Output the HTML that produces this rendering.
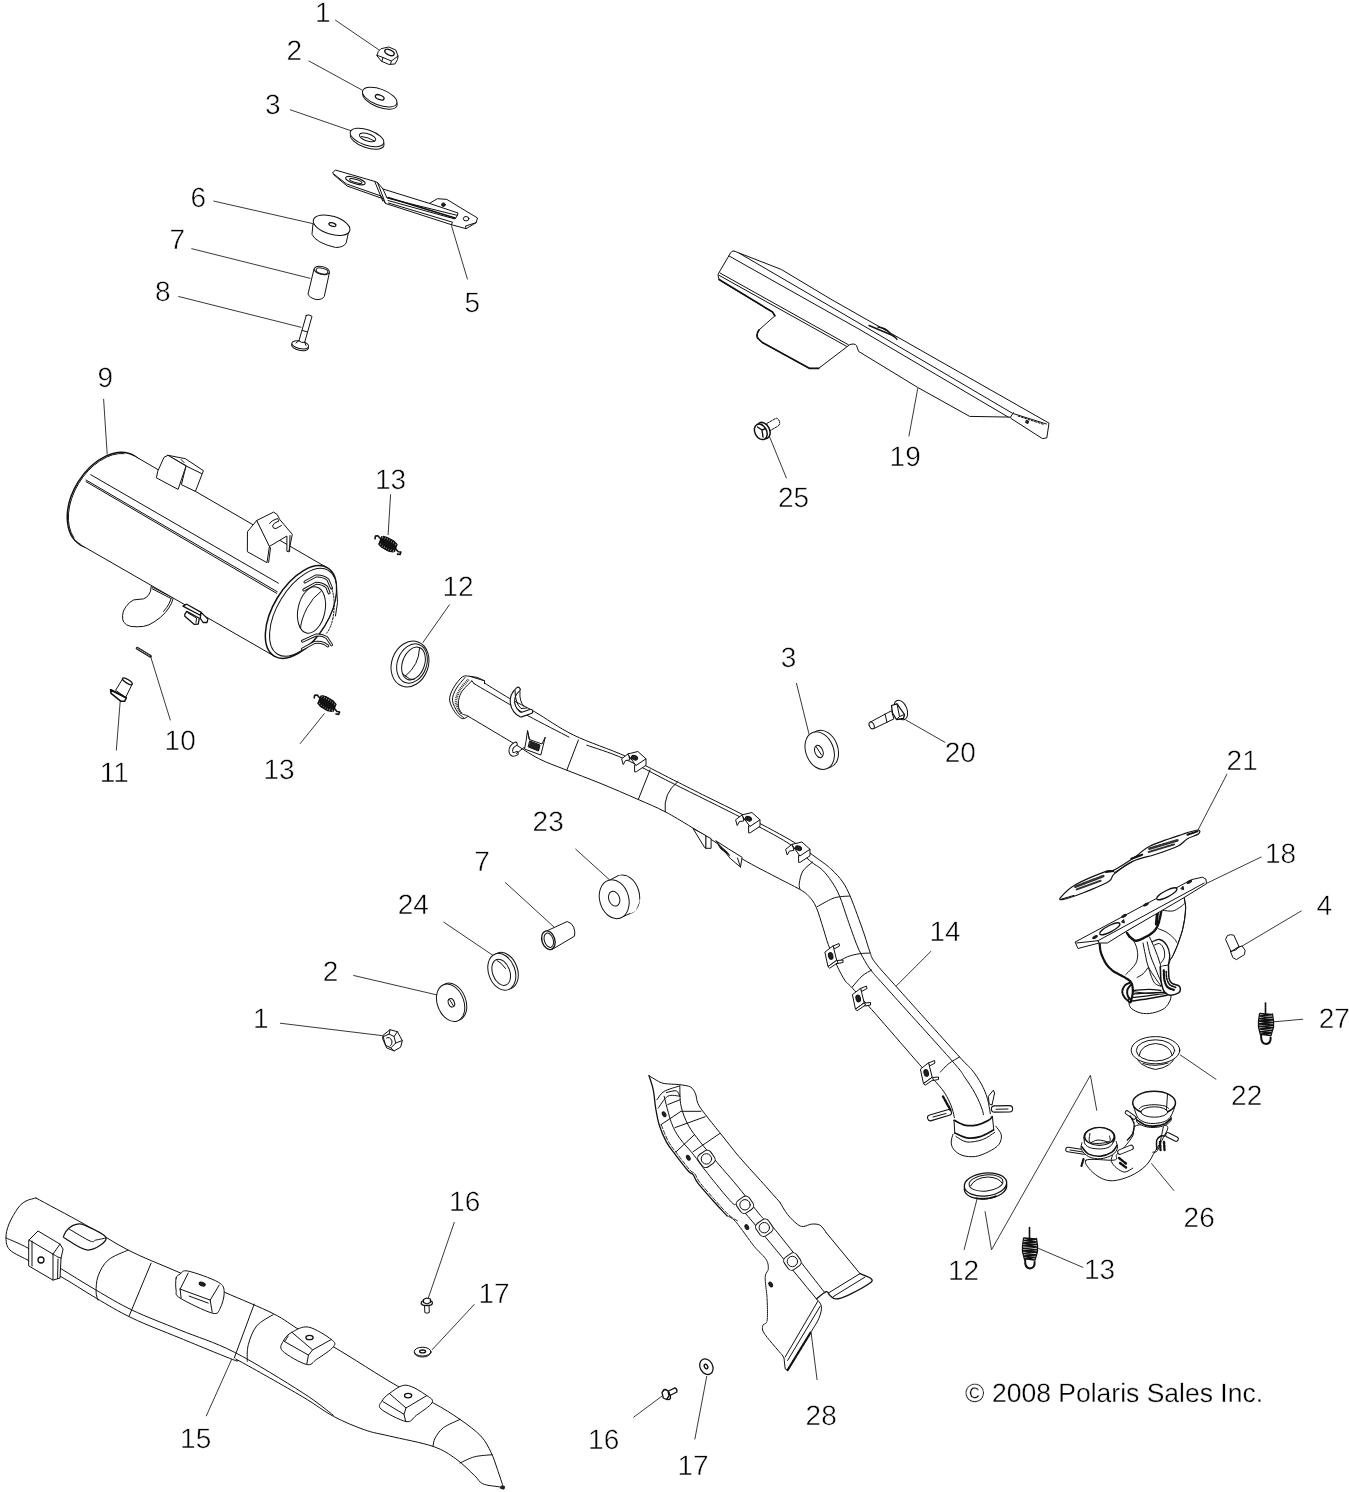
<!DOCTYPE html>
<html><head><meta charset="utf-8"><title>Exhaust parts diagram</title>
<style>
html,body{margin:0;padding:0;background:#fff}
svg{display:block;will-change:transform}
.l{fill:none;stroke:#111;stroke-width:1;stroke-linecap:round;stroke-linejoin:round}
.w{fill:#fff;stroke:#111;stroke-width:1;stroke-linecap:round;stroke-linejoin:round}
.k{fill:#222;stroke:#111;stroke-width:1}
.ld{fill:none;stroke:#222;stroke-width:0.9}
text{text-rendering:geometricPrecision;font-family:"Liberation Sans",Arial,sans-serif;font-size:28px;fill:#000;stroke:#fff;stroke-width:0.5px;paint-order:fill stroke}
</style></head><body>
<svg width="1349" height="1492" viewBox="0 0 1349 1492">
<rect width="1349" height="1492" fill="#fff"/>
<g id="leaders" class="ld">
<path d="M335.2 20L379.7 50.4M308.6 60.8L362.7 90.4M290 109.7L352.3 131.2M213.4 201L313.7 223.8M191.4 248.6L310.4 278.4M178.3 296.4L301.4 327.4M451.4 225.4L467.5 279.4M390.6 494.3L388.1 535M150.8 657.1L170.4 720.4M120.2 701.3L116.3 750.6M103.6 398.9L107.2 454.5M324.5 713.4L300 743.8M449.7 604.4L422.7 642.8M917.8 388.2L908.9 436.4M769.6 436.9L786.5 478.3M796.4 683L809.1 734.4M905.4 719.7L945.3 742.5M1197.5 830.9L1227.1 773.9M1261.4 856.9L1206.9 883.2M1301.5 910.8L1241.4 946.5M1303.1 1019.2L1273 1021.9M1180 1054.7L1216.3 1079.5M1151.4 1163.4L1174.1 1190.8M991.5 1249.8L1090.4 1075.3L1096.8 1110.7M991.5 1249.8L985 1211.2M977 1199.1L964.1 1249.8M1038.1 1248.2L1083.2 1267.5M575.4 848.9L609.6 879.9M505.2 882.4L554.2 927.2M443.4 921.9L494 956.1M353.3 975.4L437.3 995M280 1023.2L382.7 1035.7M811.1 1332.7L817.1 1380M454.4 1222L428.3 1298M474.5 1304.2L432 1349.9M232.2 1358.2L206.2 1416.2M633.4 1417.4L662.1 1396M706.8 1376L694.8 1439.4M931.1 951.1L895.7 986.5"/>
</g>
<g id="parts">
<!-- nut 1 top -->
<g class="w">
<path d="M377 55.3L378.3 51.5L381 48.7L388.8 47L395.8 50L398 56.1L397.5 59.5L394.9 64L388.8 64.4L381.8 61.4Z"/>
<path class="l" d="M377 55.3L383 57.5L391.4 61L398 56.1M391.4 61L390.5 64.4M383 57.5L381.8 61.4"/>
<ellipse cx="389.5" cy="52.4" rx="5" ry="2.6" transform="rotate(24 389.5 52.4)" style="stroke-width:1.4"/>
</g>
<!-- washer 2 top -->
<g class="w">
<ellipse cx="379.9" cy="99.3" rx="18.2" ry="8" transform="rotate(21 379.9 99.3)"/>
<ellipse cx="379.7" cy="97.1" rx="18.2" ry="8" transform="rotate(21 379.7 97.1)"/>
<ellipse cx="379.7" cy="97.3" rx="4.6" ry="2.2" transform="rotate(21 379.7 97.3)" style="stroke-width:1.3"/>
</g>
<!-- washer 3 top -->
<g class="w">
<ellipse cx="367.2" cy="140" rx="17.6" ry="7.6" transform="rotate(19 367.2 140)"/>
<ellipse cx="367" cy="137.5" rx="17.6" ry="7.6" transform="rotate(19 367 137.5)"/>
<ellipse cx="367.6" cy="137.4" rx="8.6" ry="3.6" transform="rotate(19 367.6 137.4)"/>
<path class="l" d="M361.5 136.5Q368 137 374.5 141"/>
</g>
<!-- heat shield 28 -->
<g class="w">
<path style="stroke:none" d="M649.0 1075.7L656.9 1080.5L664.1 1083.5L679.8 1084.7L690.7 1087.1L695.5 1093.8L697.9 1103.4L705.2 1114.3L719.6 1132.4L738.9 1156.5L760.7 1180.7L780.0 1202.4L787.6 1214.5L797.2 1224.1L803.3 1226.5L811.7 1224.1L820.2 1225.3L826.2 1232.6L860.0 1273.6L870.8 1278.4L869.6 1283.3L847.9 1295.3L835.8 1298.9L829.8 1295.3L826.2 1291.7L816.5 1298.9L821.4 1306.2L818.9 1318.3L810.5 1332.7L787.6 1370.1L785.2 1368.9L784.0 1358.1L782.7 1355.7L764.6 1333.9L762.8 1325.5L767.1 1320.7L767.1 1298.9L765.2 1277.2L768.3 1268.8L765.9 1259.1L753.8 1245.9L735.7 1221.7L726.9 1215.7L712.4 1200.0L697.9 1183.1L693.1 1174.6L688.3 1171.0L675.0 1154.1L666.5 1142.1L659.3 1125.2L655.7 1108.3L653.3 1090.2Z"/>
<path class="l" d="M649.0 1075.7C650.4 1076.5 654.4 1079.2 656.9 1080.5C659.4 1081.8 660.3 1082.8 664.1 1083.5C668.0 1084.2 675.4 1084.1 679.8 1084.7C684.2 1085.3 688.1 1085.6 690.7 1087.1C693.3 1088.7 694.3 1091.1 695.5 1093.8C696.7 1096.5 696.3 1100.0 697.9 1103.4C699.5 1106.9 701.5 1109.5 705.2 1114.3C708.8 1119.1 714.0 1125.4 719.6 1132.4C725.3 1139.4 732.1 1148.5 738.9 1156.5C745.8 1164.6 753.8 1173.0 760.7 1180.7C767.5 1188.3 776.8 1198.8 780.0 1202.4"/>
<path class="l" d="M780.0 1202.4C781.2 1204.4 784.7 1210.9 787.6 1214.5C790.4 1218.1 794.6 1222.1 797.2 1224.1C799.8 1226.1 800.8 1226.5 803.3 1226.5C805.7 1226.5 808.9 1224.3 811.7 1224.1C814.5 1223.9 817.7 1223.9 820.2 1225.3C822.6 1226.7 825.2 1231.4 826.2 1232.6"/>
<path class="l" d="M826.2 1232.6L860.0 1273.6"/>
<path class="l" style="stroke-width:1.3" d="M860.0 1273.6C861.8 1274.4 869.2 1276.8 870.8 1278.4C872.4 1280.0 873.4 1280.4 869.6 1283.3C865.8 1286.1 853.5 1292.7 847.9 1295.3C842.3 1297.9 838.9 1298.9 835.8 1298.9C832.8 1298.9 831.4 1296.5 829.8 1295.3C828.2 1294.1 828.4 1291.1 826.2 1291.7C824.0 1292.3 818.1 1297.7 816.5 1298.9"/>
<path class="l" d="M816.5 1298.9C817.3 1300.2 821.0 1303.0 821.4 1306.2C821.8 1309.4 820.8 1313.8 818.9 1318.3C817.1 1322.7 811.9 1330.3 810.5 1332.7"/>
<path class="l" style="stroke-width:2.2;stroke-dasharray:1.5 1" d="M810.5 1332.7L787.6 1370.1"/>
<path class="l" d="M810.5 1332.7L787.6 1370.1L785.2 1368.9L784.0 1358.1L782.7 1355.7"/>
<path class="l" style="stroke-dasharray:3 1" d="M782.7 1355.7C779.7 1352.0 768.0 1339.0 764.6 1333.9C761.3 1328.9 762.4 1327.7 762.8 1325.5C763.2 1323.3 766.4 1325.1 767.1 1320.7C767.8 1316.2 767.4 1306.2 767.1 1298.9C766.8 1291.7 765.0 1282.3 765.2 1277.2C765.4 1272.2 768.2 1271.8 768.3 1268.8C768.4 1265.8 768.3 1262.9 765.9 1259.1C763.4 1255.3 758.8 1252.1 753.8 1245.9C748.8 1239.6 740.2 1226.8 735.7 1221.7C731.2 1216.7 728.3 1216.7 726.9 1215.7"/>
<path class="l" style="stroke-width:1.3" d="M726.9 1215.7C724.5 1213.0 717.2 1205.4 712.4 1200.0C707.6 1194.5 701.1 1187.3 697.9 1183.1C694.7 1178.9 694.7 1176.6 693.1 1174.6C691.5 1172.6 691.3 1174.4 688.3 1171.0C685.2 1167.6 678.6 1158.9 675.0 1154.1C671.4 1149.3 669.2 1146.9 666.5 1142.1C663.9 1137.2 661.1 1130.8 659.3 1125.2C657.5 1119.5 656.7 1114.1 655.7 1108.3C654.7 1102.4 654.4 1095.6 653.3 1090.2C652.2 1084.7 649.8 1078.1 649.0 1075.7"/>
<path class="l" style="stroke-dasharray:4 2;stroke-width:0.9" d="M737.4 1220.8C735.9 1219.8 732.5 1218.4 728.6 1214.8C724.7 1211.1 718.9 1204.5 714.1 1199.1C709.3 1193.6 702.8 1186.4 699.6 1182.2C696.4 1178.0 696.4 1175.7 694.8 1173.7C693.2 1171.7 693.0 1173.5 690.0 1170.1C686.9 1166.7 680.3 1158.0 676.7 1153.2C673.1 1148.4 670.9 1146.0 668.2 1141.2C665.6 1136.3 662.2 1127.1 661.0 1124.3"/>
<path class="l" d="M664.1 1096.2C665.3 1100.6 668.8 1115.7 671.4 1122.7C674.0 1129.8 676.2 1133.2 679.8 1138.4C683.4 1143.7 688.5 1148.3 693.1 1154.1C697.7 1159.9 701.1 1165.4 707.6 1173.4C714.0 1181.5 725.4 1195.7 731.7 1202.4C738.0 1209.0 731.2 1197.2 745.3 1213.3C759.5 1229.4 804.7 1284.7 816.5 1298.9"/>
<path class="l" d="M679.8 1085.9C680.0 1089.3 679.6 1099.3 681.0 1105.9C682.4 1112.4 685.0 1119.1 688.3 1125.2C691.5 1131.2 695.5 1135.8 700.3 1142.1C705.2 1148.3 710.8 1154.9 717.2 1162.6C723.7 1170.2 731.7 1179.1 738.9 1187.9C746.2 1196.8 754.6 1208.6 760.7 1215.7C766.8 1222.7 764.8 1217.3 775.5 1230.2C786.2 1243.0 816.7 1282.5 825.0 1292.9"/>
<path class="l" d="M661.1 1124.6L681.0 1111.3L700.9 1111.3"/>
<path class="l" d="M675.0 1127.6L705.2 1116.7"/>
<path class="l" d="M676.2 1151.7L694.3 1134.8"/>
<path class="l" d="M693.1 1151.7L719.6 1133.6"/>
<path class="l" d="M656.9 1099.8C658.1 1098.4 660.3 1093.7 664.1 1091.4C668.0 1089.1 677.2 1086.8 679.8 1085.9"/>
<path class="l" d="M658.1 1108.3C659.7 1106.3 664.1 1098.2 667.8 1096.2C671.4 1094.2 677.8 1096.2 679.8 1096.2"/>
<path class="l" d="M666.5 1092.6C668.2 1092.3 674.0 1090.2 676.2 1090.8C678.4 1091.4 679.2 1095.3 679.8 1096.2"/>
<path class="l" d="M667.8 1104.6L679.8 1099.8"/>
<path class="l" d="M860.0 1273.6L828.6 1292.9"/>
<path class="l" d="M864.8 1277.2L833.4 1296.5"/>
<path class="l" d="M817.7 1301.4L785.2 1356.9"/>
<path class="l" d="M820.2 1306.2L787.6 1360.5"/>
<rect x="698.9" y="1151.4" width="15" height="15" rx="4.5" transform="rotate(-35 706.4 1158.9)"/>
<circle cx="706.4" cy="1158.9" r="5.2"/>
<rect x="737.5" y="1197.3" width="15" height="15" rx="4.5" transform="rotate(-35 745.0 1204.8)"/>
<circle cx="745.0" cy="1204.8" r="5.2"/>
<rect x="756.8" y="1220.2" width="15" height="15" rx="4.5" transform="rotate(-35 764.3 1227.7)"/>
<circle cx="764.3" cy="1227.7" r="5.2"/>
<rect x="784.9" y="1254.0" width="15" height="15" rx="4.5" transform="rotate(-35 792.4 1261.5)"/>
<circle cx="792.4" cy="1261.5" r="5.2"/>
<ellipse class="k" cx="664.1" cy="1114.3" rx="1.6" ry="2.6" transform="rotate(-30 664.1 1114.3)"/>
<ellipse class="k" cx="688.3" cy="1157.7" rx="1.6" ry="2.6" transform="rotate(-30 688.3 1157.7)"/>
<ellipse class="k" cx="746.8" cy="1227.1" rx="1.6" ry="2.6" transform="rotate(-30 746.8 1227.1)"/>
<ellipse class="k" cx="770.7" cy="1284.5" rx="1.6" ry="2.6" transform="rotate(-30 770.7 1284.5)"/>
</g>
<!-- heat shield 15 -->
<g class="w">
<path style="stroke:none" d="M36.0 1198.0L84.1 1224.0L128.1 1250.1L176.1 1271.1L224.2 1292.1L273.2 1313.6L300.2 1330.2L333.4 1346.8L397.7 1386.2L433.0 1402.8L460.0 1419.4L480.8 1436.0L491.1 1452.6L497.4 1469.3L503.6 1487.9L503.6 1487.9L499.4 1486.9L482.8 1483.8L474.5 1475.5L455.9 1458.9L433.0 1446.4L389.4 1436.0L364.5 1429.8L333.4 1416.3L302.3 1396.6L240.0 1361.3L234.2 1360.1L180.1 1338.1L132.1 1318.1L96.1 1298.1L60.0 1276.1L28.0 1260.1L28.0 1260.1L10.0 1250.1L6.0 1238.0L9.0 1224.0L18.0 1208.0L26.0 1201.0L36.0 1198.0Z"/>
<path class="l" d="M36.0 1198.0C44.0 1202.4 68.7 1215.4 84.1 1224.0C99.4 1232.7 112.8 1242.2 128.1 1250.1C143.4 1257.9 160.1 1264.1 176.1 1271.1C192.2 1278.1 208.0 1285.0 224.2 1292.1C240.4 1299.2 260.5 1307.2 273.2 1313.6C285.9 1319.9 290.2 1324.7 300.2 1330.2C310.2 1335.7 317.1 1337.5 333.4 1346.8C349.7 1356.1 381.1 1376.9 397.7 1386.2C414.3 1395.6 422.6 1397.3 433.0 1402.8C443.4 1408.4 452.1 1413.9 460.0 1419.4C468.0 1425.0 475.6 1430.5 480.8 1436.0C486.0 1441.6 488.4 1447.1 491.1 1452.6C493.9 1458.2 495.3 1463.4 497.4 1469.3C499.4 1475.1 502.6 1484.8 503.6 1487.9"/>
<path class="l" d="M36.0 1198.0C34.4 1198.5 29.0 1199.3 26.0 1201.0C23.0 1202.7 20.9 1204.2 18.0 1208.0C15.2 1211.9 11.0 1219.0 9.0 1224.0C7.0 1229.0 5.8 1233.7 6.0 1238.0C6.2 1242.4 6.3 1246.4 10.0 1250.1C13.7 1253.7 25.0 1258.4 28.0 1260.1"/>
<path class="l" d="M28.0 1260.1C33.4 1262.7 48.7 1269.7 60.0 1276.1C71.4 1282.4 84.1 1291.1 96.1 1298.1C108.1 1305.1 118.1 1311.4 132.1 1318.1C146.1 1324.8 163.1 1331.1 180.1 1338.1C197.2 1345.1 224.2 1356.3 234.2 1360.1C244.2 1364.0 228.7 1355.2 240.0 1361.3C251.3 1367.4 286.7 1387.4 302.3 1396.6C317.8 1405.8 323.0 1410.8 333.4 1416.3C343.8 1421.9 355.2 1426.5 364.5 1429.8C373.9 1433.1 378.0 1433.3 389.4 1436.0C400.9 1438.8 422.0 1442.6 433.0 1446.4C444.1 1450.2 448.9 1454.0 455.9 1458.9C462.8 1463.7 470.0 1471.3 474.5 1475.5C479.0 1479.6 478.7 1481.9 482.8 1483.8C487.0 1485.7 496.0 1486.2 499.4 1486.9C502.9 1487.6 502.9 1487.8 503.6 1487.9"/>
<path class="l" d="M6.0 1238.0C9.7 1239.7 19.0 1243.1 28.0 1248.1C37.0 1253.1 48.7 1261.1 60.0 1268.1C71.4 1275.1 84.1 1283.1 96.1 1290.1C108.1 1297.1 118.1 1303.4 132.1 1310.1C146.1 1316.8 163.1 1323.1 180.1 1330.1C197.2 1337.1 213.8 1341.7 234.2 1352.1C254.5 1362.5 285.7 1381.9 302.3 1392.5C318.8 1403.0 328.2 1411.5 333.4 1415.3"/>
<path class="l" d="M128.1 1250.1C124.8 1251.7 113.1 1255.7 108.1 1260.1C103.1 1264.4 100.1 1270.7 98.1 1276.1C96.1 1281.4 96.1 1288.1 96.1 1292.1C96.1 1296.1 97.7 1298.8 98.1 1300.1"/>
<path class="l" d="M151.1 1263.1L129.1 1316.1"/>
<path class="l" d="M254.2 1304.1L234.2 1358.1"/>
<path class="l" d="M273.2 1314.6C270.4 1316.5 260.8 1321.0 256.6 1326.0C252.5 1331.1 249.9 1338.8 248.3 1344.7C246.7 1350.6 247.4 1358.6 247.3 1361.3"/>
<path class="l" d="M460.0 1419.4C457.2 1420.8 447.6 1424.6 443.4 1427.7C439.3 1430.9 436.8 1435.0 435.1 1438.1C433.4 1441.2 433.4 1445.0 433.0 1446.4"/>
<path class="l" d="M492.2 1454.7C489.2 1455.1 479.9 1455.4 474.5 1456.8C469.2 1458.2 462.4 1462.0 460.0 1463.0"/>
<path d="M29.0 1240.0L38.0 1231.0L60.0 1244.1L63.1 1249.1L61.0 1258.1L60.0 1278.1L53.0 1280.1L29.0 1266.1Z"/>
<path class="l" d="M29.0 1240.0L53.0 1254.1L53.0 1280.1"/>
<path class="l" d="M53.0 1254.1L60.0 1244.1"/>
<path class="l" d="M32.0 1241.0L32.0 1266.1"/>
<path class="l" d="M53.0 1254.1C53.9 1254.6 56.7 1256.4 58.0 1257.1C59.4 1257.7 60.5 1257.9 61.0 1258.1"/>
<path class="l" d="M58.0 1259.1L57.6 1278.5"/>
<circle cx="41" cy="1260" r="3" style="stroke-width:1.3"/>
<path d="M64.1 1235.0C64.6 1233.2 67.1 1229.8 69.1 1228.0C71.1 1226.3 73.6 1224.9 76.1 1224.4C78.6 1223.9 79.1 1222.8 84.1 1225.0C89.1 1227.3 105.4 1233.9 106.1 1238.0C106.8 1242.2 94.7 1249.9 88.1 1250.1C81.4 1250.2 70.1 1241.5 66.1 1239.0C62.0 1236.5 63.6 1236.9 64.1 1235.0Z" style="stroke-width:1.2"/>
<path class="l" d="M69.1 1229.0C72.6 1231.0 85.6 1239.2 90.1 1241.0C94.6 1242.9 93.4 1240.5 96.1 1240.0C98.7 1239.5 104.4 1238.4 106.1 1238.0"/>
<path d="M176.1 1278.1C176.8 1275.4 178.1 1275.2 180.1 1274.1C182.1 1272.9 181.8 1269.7 188.2 1271.1C194.5 1272.4 212.2 1278.6 218.2 1282.1C224.2 1285.6 223.8 1287.8 224.2 1292.1C224.5 1296.4 222.2 1304.6 220.2 1308.1C218.2 1311.6 218.8 1314.8 212.2 1313.1C205.5 1311.4 186.1 1301.9 180.1 1298.1C174.1 1294.3 176.8 1293.4 176.1 1290.1C175.5 1286.8 175.5 1280.7 176.1 1278.1Z"/>
<path class="l" d="M180.1 1289.1L188.2 1273.1"/>
<path class="l" d="M180.1 1289.1L210.2 1300.1L219.2 1285.1"/>
<path class="l" d="M210.2 1300.1L212.2 1312.1"/>
<path class="l" d="M180.1 1289.1L181.1 1298.1"/>
<path class="l" d="M189.2 1296.1L208.2 1303.1"/>
<ellipse class="k" cx="202.2" cy="1284.1" rx="3.2" ry="1.8" transform="rotate(20 202.2 1284.1)"/>
<path d="M283.6 1340.6C285.1 1337.5 287.7 1334.5 291.9 1332.3C296.0 1330.0 301.9 1325.9 308.5 1327.1C315.1 1328.3 327.2 1336.2 331.3 1339.5C335.5 1342.8 335.8 1343.5 333.4 1346.8C331.0 1350.1 321.3 1356.3 316.8 1359.2C312.3 1362.2 312.1 1365.8 306.4 1364.4C300.7 1363.1 286.4 1354.9 282.5 1350.9C278.7 1347.0 282.0 1343.7 283.6 1340.6Z"/>
<path class="l" d="M291.9 1332.3L312.6 1349.9L331.3 1339.5"/>
<path class="l" d="M284.6 1341.6L308.5 1355.1L312.6 1349.9"/>
<path class="l" d="M308.5 1355.1L306.8 1363.8"/>
<path class="l" d="M288.2 1336.0L284.6 1341.6"/>
<ellipse cx="309.5" cy="1337.5" rx="3.6" ry="2.2" style="stroke-width:1.3"/>
<path d="M382.2 1400.8C383.6 1398.2 385.5 1396.1 389.4 1393.5C393.4 1390.9 399.8 1384.8 406.0 1385.2C412.3 1385.5 422.5 1392.6 426.8 1395.6C431.1 1398.5 433.7 1399.5 432.0 1402.8C430.3 1406.1 420.7 1412.2 416.4 1415.3C412.1 1418.4 411.9 1422.6 406.0 1421.5C400.2 1420.5 385.1 1412.5 381.1 1409.1C377.2 1405.6 380.8 1403.4 382.2 1400.8Z"/>
<path class="l" d="M389.4 1393.5L406.0 1408.0L426.8 1395.6"/>
<path class="l" d="M383.2 1401.8L404.0 1414.3L406.0 1408.0"/>
<path class="l" d="M404.0 1414.3L405.6 1421.1"/>
<ellipse cx="408.1" cy="1395.6" rx="3.6" ry="2.2" style="stroke-width:1.3"/>
<path class="k" d="M501.5 1486l3 .5l-.5 2.6l-3-.6z"/>
</g>
<!-- bolt16/washer17 -->
<g class="w">
<path d="M424.5 1304L424.8 1312.5Q427 1314 429.3 1312.5L429 1304Z"/>
<ellipse cx="426.8" cy="1303" rx="5.6" ry="2.6" style="stroke-width:1.3"/>
<path d="M423.5 1299.5L426.5 1298L430.5 1299L430.3 1302.5L427 1304L423.5 1302.5Z" style="stroke-width:1.2"/>
<ellipse cx="422.6" cy="1352.4" rx="8.3" ry="4.6"/>
<ellipse cx="422.6" cy="1351.6" rx="8.3" ry="4.4"/>
<ellipse cx="422.6" cy="1351.4" rx="3" ry="1.4" style="stroke-width:1.3"/>
</g>
<!-- bolt 16 / washer 17 bottom -->
<g class="w">
<path d="M668.5 1391L675 1387.8Q677.5 1389 676.8 1392L670 1395.5Z" style="stroke-width:1.3"/>
<ellipse cx="666.8" cy="1394.5" rx="2.6" ry="5.6" transform="rotate(-28 666.8 1394.5)" style="stroke-width:1.3"/>
<path d="M662 1392.5L664.5 1389.5L668 1391L669 1396L666.5 1399.5L663.3 1398Z" style="stroke-width:1.3"/>
<ellipse cx="706.4" cy="1366.7" rx="6.2" ry="8.2" transform="rotate(-28 706.4 1366.7)" style="stroke-width:1.3"/>
<ellipse cx="706" cy="1366.5" rx="1.6" ry="2.3" transform="rotate(-28 706 1366.5)" style="stroke-width:1.4"/>
</g>
<!-- bracket 5 -->
<g class="w">
<path d="M332.7 172.7L335.3 170L374.7 181.4L377.6 182.6L383 189L429.4 203.4L437.4 198.7L446.8 199.4L477.5 218L476.1 222.7L466.1 228.7L451.4 224.7L385.4 203.4L381 196L346.7 184Z"/>
<path class="l" d="M377.6 182.6L385.4 203.4M374.7 181.4L382.7 201M383 189L387 198L457.4 215.4L455 219L388 200.5M429.4 203.4L458 213L457.4 215.4M451.4 224.7L452.5 222.2L388.5 203M466.1 228.7L465.5 226L476.1 222.7M333.5 174.5L347 186L381 198"/>
<path class="l" style="stroke-width:1.6" d="M388 197.5L455 218"/>
<ellipse cx="355.4" cy="180.7" rx="10.2" ry="3" transform="rotate(17 355.4 180.7)"/>
<ellipse cx="355.8" cy="181" rx="6.5" ry="1.5" transform="rotate(17 355.8 181)"/>
<ellipse cx="466.1" cy="218.7" rx="2.8" ry="2.2"/>
<circle cx="443.4" cy="204.7" r="1.8" class="k"/>
</g>
<!-- rubber 6 -->
<g class="w">
<path d="M312.9 224.6L312 234.4Q316 243 335.7 247.5Q344 247.5 346.3 242.6L349.6 227Z"/>
<ellipse cx="331.6" cy="225.2" rx="19" ry="9" transform="rotate(17 331.6 225.2)"/>
<ellipse cx="332.4" cy="224.6" rx="3.6" ry="1.7" transform="rotate(17 332.4 224.6)" style="stroke-width:1.3"/>
</g>
<!-- sleeve 7 -->
<g class="w">
<path d="M313.9 269.5L308 294Q309 297.5 316.1 299.6Q322.5 299.8 324.3 296.4L329.4 272.7Z"/>
<ellipse cx="321.8" cy="270.5" rx="7.8" ry="4" transform="rotate(14 321.8 270.5)"/>
<ellipse cx="322" cy="271" rx="6" ry="2.8" transform="rotate(14 322 271)"/>
</g>
<!-- bolt 8 -->
<g class="w">
<ellipse cx="300" cy="346.5" rx="8.6" ry="3.8" transform="rotate(12 300 346.5)"/>
<ellipse cx="300.2" cy="344.8" rx="8.6" ry="3.8" transform="rotate(12 300.2 344.8)"/>
<path d="M306.3 315.3L299 340.6Q301.5 343.5 304.7 342.2L312 316.3Q309 314 306.3 315.3Z"/>
<path class="l" d="M302.5 330.5L307.5 332M296 343L299 340.6M304.7 342.2L306 345.5"/>
</g>
<!-- muffler 9 -->
<g class="w">
<!-- outlet pipe behind body -->
<path d="M151.1 586.9Q151 592 149.1 594.1Q147 598 143.4 598.9L133.7 599.9Q129 602 126 606.6Q122.5 611 122.6 615.3Q122.3 619.5 123.6 622Q126 625.5 130.8 626.4Q137 627.2 143.4 626.4Q149 625.5 154 622Q160.5 618 165.5 612.4Q169 608 171.3 603.7L173.2 598.4Z"/>
<path class="l" d="M171.2 598.4L169.2 603.5Q167 607.5 163.5 611.5"/>
<!-- left cap -->
<ellipse cx="107.2" cy="500.2" rx="34.3" ry="52" transform="rotate(31.6 107.2 500.2)" style="stroke-width:1.5"/>
<!-- body -->
<path d="M134 455.7L327.4 567.9L274.4 656.2L80.4 544.7Z" style="stroke:none"/>
<path class="l" d="M134 455.7L327.4 567.9M80.4 544.7L274.4 656.2"/>
<path class="l" d="M124 453.6A33 51 31.6 0 0 73.8 537.5"/>
<!-- seams -->
<path class="l" d="M90.7 474.7L278.4 583.2M86 480L277.2 591.7M86 481.6L276.6 593.3"/>
<!-- right cap -->
<ellipse cx="300.9" cy="612" rx="27.5" ry="51.5" transform="rotate(31.2 300.9 612)" style="stroke-width:1.5"/>
<ellipse cx="303" cy="612.3" rx="25.5" ry="49" transform="rotate(31.2 303 612.3)"/>
<ellipse cx="311.5" cy="610" rx="13.5" ry="23.5" transform="rotate(12 311.5 610)"/>
<path class="l" d="M320.6 591.7Q313 597 307 608Q301 620 300.5 628"/>
</g>
<!-- bracket 1 on muffler -->
<g class="w">
<path d="M168 455.3L185.4 458.7L203.4 470.7L195.4 491.4L181.4 484.7L186 466Z"/>
<path d="M158 470.7L164 457.3L168 455.3L186 466L178.1 489.4L156.7 478Z"/>
<path class="l" d="M186 466L201.5 473.5M181 459.5L184 462.5"/>
</g>
<!-- bracket 2 on muffler -->
<g class="w">
<path d="M256.7 520.5L273.6 512.1L277.2 514.5L279.6 519.3L292.3 534.4L288.7 551.9L286.9 551.3L286.9 536L269.4 546.4Z"/>
<path d="M247.7 531.4L256.7 520.5L269.4 546.4L267 562.7L247.7 551.9Z"/>
<path class="l" d="M290 535.5L289.6 551.5M269.4 546.4L270.5 548L268.6 562.4"/>
<path class="l" d="M269.5 523.5Q271 520.5 277.5 518.5L279 521Q273 523 272.5 526Q273 529 276 528.5L281.5 525.5"/>
</g>
<!-- muffler extras -->
<g class="l">
<path d="M152.2 588.8L170.8 598.4"/>
<path style="stroke-width:3" d="M305 582L315.8 576Q323 575.5 327.9 579.6L331.5 588M303.8 589.9L315.8 583.2Q322 583 326.7 586.9L329.1 592.9M302.5 641.2L315.8 635.1Q322 634.5 326.7 637.5L331.5 644.8M302.5 649L314.6 642.4Q320 641.8 324.3 643.6L327.9 646"/>
<path style="stroke:#fff;stroke-width:1.1" d="M305 582L315.8 576Q323 575.5 327.9 579.6L331.5 588M303.8 589.9L315.8 583.2Q322 583 326.7 586.9L329.1 592.9M302.5 641.2L315.8 635.1Q322 634.5 326.7 637.5L331.5 644.8M302.5 649L314.6 642.4Q320 641.8 324.3 643.6L327.9 646"/>
<path d="M331.5 588Q336 600 333 618M333 618Q331 628 326 634" style="stroke-dasharray:1.5 1.5"/>
<path d="M336.8 590Q339 602 335.5 616" />
</g>
<!-- small bracket under muffler -->
<g class="w" style="stroke-width:1.3">
<path d="M182.9 606.1L186.7 604.2L201.2 612.4L200.2 615.3Z"/>
<path d="M184.8 614.3L186.7 611.4L199.3 618.2L198.3 624L194.4 624.4L184.8 616.3Z"/>
<path d="M201.2 612.4L207.9 619.1L207 622.5L203.1 622.5L200.2 618.2Z"/>
<path class="l" d="M188 613L196.5 618L196 622.5"/>
</g>
<!-- pin 10 -->
<path class="l" style="stroke-width:3;stroke:#222" d="M137.2 648.3L150.4 656.3"/>
<path class="l" style="stroke-width:0.8;stroke:#ddd;stroke-dasharray:1 1.5" d="M137.6 648.5L150 656"/>
<!-- bolt 11 -->
<g class="w">
<path d="M110.6 689.8L111.1 693.3L121 701.3L124.7 701.3L126.2 697.8Z" style="stroke-width:1.6"/>
<path d="M122.7 678.7L115.6 690.3L125.7 697.3L131.9 684.7Z"/>
<ellipse cx="127.4" cy="681.3" rx="5.6" ry="1.8" transform="rotate(32 127.4 681.3)" style="stroke-width:1.4"/>
<path class="l" d="M110.6 689.8L126.2 697.8" style="stroke-width:1.6"/>
</g>
<defs><g id="spring">
<path class="l" style="stroke-width:1.7;stroke-linejoin:miter" d="M-9 -3.6L-7.8 4.4L-6.6 -5L-5.4 5.4L-4.2 -5.8L-3 6L-1.8 -6L-0.6 6L0.6 -6L1.8 6L3 -5.8L4.2 5.4L5.4 -5L6.6 4.4L7.8 -3.8L9 3"/>
<path class="l" style="stroke-width:1.6" d="M-8.5 -1L-13 -2.5L-15 -1L-14 1.5M8.2 0L12.5 1.5L15 0.5L15.5 3L13 4"/>
<path class="l" style="stroke-width:1.2" d="M-8 -4.6L-4 -5.6L4 -5.6L8 -4.2M-8 4.4L-4 5.6L4 5.6L8 4.2"/>
</g></defs>
<!-- spring 13 top -->
<use href="#spring" transform="translate(388 544.3) rotate(29)"/>
<!-- spring 13 lower -->
<use href="#spring" transform="translate(327 703.8) rotate(31)"/>
<!-- gasket 12 -->
<g class="w">
<ellipse cx="410" cy="664" rx="18.3" ry="23.4" transform="rotate(20 410 664)"/>
<ellipse cx="412" cy="663.5" rx="14.6" ry="20.2" transform="rotate(20 412 663.5)"/>
<ellipse cx="413.5" cy="663.5" rx="11" ry="17" transform="rotate(20 413.5 663.5)"/>
<path class="l" d="M419.5 648.5Q419 665 405.5 676M405.5 676Q410 680.5 414 679.5M402.5 673.5L406 676.5"/>
</g>
<!-- pipe 14 -->
<g class="w">
<path d="M484.5 680.8C483.2 680.2 479.5 678.2 477.0 677.5C474.5 676.8 472.2 676.4 469.7 676.3C467.2 676.2 464.9 675.0 462.2 677.0C459.5 679.0 455.4 684.4 453.3 688.2C451.2 692.0 449.4 696.0 449.6 700.0C449.9 704.0 452.7 708.8 454.8 711.9C456.9 715.0 460.0 717.9 462.2 718.6C464.4 719.3 467.2 716.7 468.2 716.3"/>
<path class="l" d="M465.0 677.5C463.5 679.4 458.1 685.2 456.0 689.0C453.9 692.8 452.2 696.7 452.5 700.5C452.8 704.3 455.7 709.2 457.5 712.0C459.3 714.8 462.5 716.6 463.5 717.5"/>
<path style="stroke:none" d="M485.0 683.4L509.7 698.5L534.9 711.9L573.4 735.0L626.8 756.7L673.5 780.0L706.9 796.8L743.5 815.0L790.2 840.0L819.8 860.2L831.9 869.8L842.7 881.9L850.0 895.8L857.2 914.5L864.5 935.0L869.9 951.9L875.3 962.7L899.3 990.0L959.6 1057.0L971.7 1069.6L981.4 1084.1L987.4 1098.6L991.0 1117.9L954.8 1121.5L954.2 1116.7L951.2 1105.8L945.2 1093.8L936.7 1082.9L919.8 1064.8L880.0 1019.0L852.4 988.1L845.2 980.8L836.7 965.1L828.3 944.6L823.4 928.9L816.2 907.2L809.0 896.4L799.3 889.1L775.0 876.5L741.9 858.7L693.0 828.1L665.2 811.8L638.3 799.5L600.0 783.2L566.3 770.0L538.5 758.5L511.2 741.9L468.2 716.3Z"/>
<path class="l" d="M485.0 683.4C489.1 685.9 501.4 693.8 509.7 698.5C518.0 703.2 524.3 705.8 534.9 711.9C545.5 718.0 558.1 727.5 573.4 735.0C588.7 742.5 610.1 749.2 626.8 756.7C643.5 764.2 660.1 773.3 673.5 780.0C686.9 786.7 695.2 791.0 706.9 796.8C718.6 802.6 729.6 807.8 743.5 815.0C757.4 822.2 777.5 832.5 790.2 840.0C802.9 847.5 812.8 855.2 819.8 860.2C826.8 865.2 828.1 866.2 831.9 869.8C835.7 873.4 839.7 877.6 842.7 881.9C845.7 886.2 847.6 890.4 850.0 895.8C852.4 901.2 854.8 908.0 857.2 914.5C859.6 921.0 862.4 928.8 864.5 935.0C866.6 941.2 868.1 947.3 869.9 951.9C871.7 956.5 870.4 956.4 875.3 962.7C880.2 969.1 885.2 974.3 899.3 990.0C913.3 1005.7 947.5 1043.7 959.6 1057.0C971.7 1070.3 968.1 1065.1 971.7 1069.6C975.3 1074.1 978.8 1079.3 981.4 1084.1C984.0 1088.9 985.8 1093.0 987.4 1098.6C989.0 1104.2 990.4 1114.7 991.0 1117.9"/>
<path class="l" d="M468.2 716.3C475.4 720.6 499.5 734.9 511.2 741.9C522.9 748.9 529.3 753.8 538.5 758.5C547.7 763.2 556.0 765.9 566.3 770.0C576.5 774.1 588.0 778.3 600.0 783.2C612.0 788.1 627.4 794.7 638.3 799.5C649.2 804.3 656.1 807.0 665.2 811.8C674.3 816.6 680.2 820.3 693.0 828.1C705.8 835.9 728.2 850.6 741.9 858.7C755.6 866.8 765.4 871.4 775.0 876.5C784.6 881.6 793.6 885.8 799.3 889.1C805.0 892.4 806.2 893.4 809.0 896.4C811.8 899.4 813.8 901.8 816.2 907.2C818.6 912.6 821.4 922.7 823.4 928.9C825.4 935.1 826.1 938.6 828.3 944.6C830.5 950.6 833.9 959.1 836.7 965.1C839.5 971.1 842.6 977.0 845.2 980.8C847.8 984.6 846.6 981.7 852.4 988.1C858.2 994.5 868.8 1006.2 880.0 1019.0C891.2 1031.8 910.3 1054.1 919.8 1064.8C929.2 1075.5 932.5 1078.1 936.7 1082.9C940.9 1087.7 942.8 1090.0 945.2 1093.8C947.6 1097.6 949.7 1102.0 951.2 1105.8C952.7 1109.6 953.6 1114.1 954.2 1116.7C954.8 1119.3 954.7 1120.7 954.8 1121.5"/>
<path class="l" d="M474.1 683.7C480.0 687.2 500.6 699.1 509.7 704.5C518.9 709.9 519.1 710.9 529.0 716.3C538.9 721.7 562.3 733.6 569.0 737.1"/>
<path class="l" d="M586.8 745.2C593.0 747.4 609.4 752.2 623.8 758.6C638.2 765.0 653.1 773.5 673.0 783.5C692.9 793.5 723.8 808.6 743.0 818.5C762.2 828.4 776.6 835.8 788.0 843.0C799.4 850.2 805.7 857.5 811.4 862.0C817.1 866.5 818.8 866.5 822.2 869.8C825.6 873.1 829.0 877.5 831.9 881.9C834.8 886.3 837.1 890.2 839.7 896.4C842.3 902.6 844.7 911.1 847.6 919.3C850.5 927.5 854.4 939.0 857.2 945.8C860.0 952.6 862.1 956.1 864.5 960.3C866.9 964.5 867.7 966.2 871.7 971.2C875.7 976.2 875.0 975.0 888.4 990.0C901.8 1005.0 939.7 1046.7 952.4 1061.2C965.1 1075.7 960.7 1071.5 964.5 1076.9C968.3 1082.3 972.3 1088.2 975.3 1093.8C978.3 1099.4 981.2 1106.3 982.6 1110.7C984.0 1115.1 983.6 1118.7 983.8 1120.3"/>
<path class="l" d="M471.9 680.8C470.4 682.3 465.1 687.3 463.0 690.0C460.9 692.7 460.1 694.8 459.3 697.1C458.5 699.4 458.3 701.8 458.3 704.0C458.3 706.2 458.6 708.7 459.3 710.4C460.0 712.1 461.1 713.1 462.5 714.0C463.9 714.9 466.6 715.3 467.4 715.6"/>
<path class="l" d="M469.7 676.3L484.5 680.8L484.5 683.7M471.9 680.8L474.1 683.7"/>
<path class="l" style="stroke-width:2.6;stroke-dasharray:0.9 0.9;stroke-linecap:butt;stroke:#333" d="M468.5 679.5C467.1 681.2 462.1 686.0 460.0 689.5C457.9 693.0 456.3 697.4 456.0 700.5C455.7 703.6 457.1 705.8 458.0 708.0C458.9 710.2 460.9 712.6 461.5 713.5"/>
<path class="l" d="M578.4 740L566.8 770.2M650 770L638.3 799.5"/>
<path class="l" d="M678 781.5Q663 793 665.2 811.8"/>
<path class="l" d="M812.6 862.0C811.0 863.5 805.1 867.5 802.9 871.0C800.7 874.5 799.8 880.1 799.3 883.1C798.8 886.1 799.8 888.1 799.9 889.1"/>
<path class="l" d="M817.4 906.6C819.8 905.3 828.1 900.4 831.9 898.8C835.7 897.1 837.3 897.2 840.3 896.7C843.3 896.2 848.4 896.2 850.0 896.1"/>
<path class="l" d="M836.7 962.7C838.5 961.7 843.8 958.2 847.6 956.7C851.4 955.2 855.9 954.3 859.6 953.7C863.3 953.1 868.2 953.2 869.9 953.1"/>
<path class="l" d="M852.4 986.9C854.0 985.1 858.9 978.8 862.1 976.0C865.3 973.2 870.1 971.0 871.7 970.0"/>
<path class="l" d="M940.3 1072.1C941.7 1070.7 945.6 1066.1 948.8 1063.6C952.0 1061.1 957.8 1058.1 959.6 1057.0"/>
<path d="M953.0 1134.2C952.7 1135.5 951.1 1139.5 951.2 1142.0C951.3 1144.5 951.8 1147.1 953.6 1149.3C955.4 1151.5 958.4 1154.1 962.0 1155.3C965.6 1156.5 970.9 1157.1 975.3 1156.5C979.7 1155.9 984.7 1153.7 988.6 1151.7C992.5 1149.7 996.8 1147.3 998.9 1144.5C1001.0 1141.7 1001.8 1137.8 1001.3 1134.8C1000.8 1131.8 996.7 1127.7 995.8 1126.3"/>
<path style="stroke:none" d="M954 1118L954.8 1133Q966 1139.5 980.2 1136.6Q990 1134 993.8 1130L992.4 1114Z"/><path class="l" d="M954 1120.3L954.8 1133M992.4 1116.7L993.8 1130"/>
<path class="l" style="stroke-width:1.7" d="M954.2 1120.3C955.9 1121.1 960.8 1124.3 964.5 1125.1C968.2 1125.9 972.5 1125.9 976.5 1125.1C980.5 1124.3 986.0 1121.7 988.6 1120.3C991.2 1118.9 991.6 1117.3 992.2 1116.7"/>
<path class="l" style="stroke-width:1.7" d="M954.8 1133.0C956.8 1133.8 962.7 1137.2 966.9 1137.8C971.1 1138.4 975.8 1137.9 980.2 1136.6C984.6 1135.3 991.2 1131.1 993.4 1130.0"/>
<path class="l" d="M956.0 1136.5C957.8 1137.4 962.5 1141.5 966.9 1142.0C971.3 1142.5 978.0 1141.2 982.6 1139.6C987.2 1138.0 992.6 1133.6 994.6 1132.4"/>
<defs><g id="clip"><path class="w" d="M9.5 0.3L9.5 6.8L-0.3 13.3L-1.9 13.3L-1.9 6.8Z"/><path class="w" d="M-8.4 -4.6L-14.9 0.3L-13.3 6L-11 2L-7 1.5Z"/><path class="w" d="M-8.4 -4.6L1.4 -7L9.5 0.3L-0.3 6.8Z"/><ellipse class="k" cx="-2" cy="-0.8" rx="3.2" ry="2.1" transform="rotate(25 -2 -0.8)"/></g>
<g id="clipb"><path class="w" d="M2 -9L8 -11.5L8.5 -9L4 -6.5ZM6 5.5L12 5L12 7.5L6.5 8.5Z"/><path class="w" d="M-5.8 -3.1L2.1 -9.2L5.7 5.3L-2.7 11.4Z"/><path class="w" d="M-2.7 11.4L5.7 5.3L7 7.5L-1 13Z"/><ellipse class="k" cx="-0.3" cy="1" rx="2.2" ry="3.4" transform="rotate(-15 -0.3 1)"/></g></defs>
<use href="#clip" x="636.5" y="758.5"/><use href="#clip" x="750.5" y="819.5"/><use href="#clip" x="800.5" y="849"/>
<use href="#clipb" x="831" y="955"/><use href="#clipb" x="858.5" y="997.5"/><use href="#clipb" x="926.5" y="1072"/>
<g class="w"><path d="M693.2 828.8L704.6 847.5L706.2 848.3L706.2 836.1Z"/><path d="M706.2 836.1L711.1 838.6L711.1 848.3L706.2 848.3Z"/><path d="M716 841L730.7 858.9L740.5 867.1L742.1 857.3L729 849.2Z"/><path class="k" d="M718 844L727.5 852.5L729.5 855.5L721 849Z"/><path class="l" d="M740.5 867.1L737.5 858"/></g>
<path class="l" style="stroke-width:5.5" d="M518 689.5Q511.5 695 512.5 703Q514 711.5 521 714.8L530.5 711.5"/><path class="l" style="stroke:#fff;stroke-width:3.3" d="M518 689.5Q511.5 695 512.5 703Q514 711.5 521 714.8L530.5 711.5"/>
<path class="l" d="M515 690.5Q515 703 521 708.5L527 708M520 692Q519 701 524 706.5"/>
<path class="l" style="stroke-width:4.6" d="M515.5 744Q510.5 746.5 510.8 751.5Q511.5 756 516.5 753.5"/><path class="l" style="stroke:#fff;stroke-width:2.6" d="M515.5 744Q510.5 746.5 510.8 751.5Q511.5 756 516.5 753.5"/>
<g class="w"><path d="M527.5 731L526 741.5L524.5 749L540.8 755L545.3 737.1L542 744L529.5 739.5Z"/><path class="k" d="M530 741L540 745L538.5 751L528.5 747Z"/><path class="l" d="M516.5 753.5L524 747.5M527.5 731L529.5 739.5"/></g>
<path class="l" style="stroke-width:7" d="M930.5 1117.8L948.5 1112.5"/><path class="l" style="stroke:#fff;stroke-width:4.8" d="M930.5 1117.8L948.5 1112.5"/><path class="l" d="M933 1117L946 1113.5"/>
<path class="l" style="stroke-dasharray:2 1.6;stroke-width:2.4" d="M943 1096.5L950.5 1110"/>
<path class="l" style="stroke-width:7.4" d="M994.5 1109L1009.5 1108.8"/><path class="l" style="stroke:#fff;stroke-width:5.2" d="M994.5 1109L1009.5 1108.8"/><path class="l" d="M996 1109.3L1008 1109"/>
<path class="w" d="M988.6 1096L993.4 1090.2L994.6 1093L992 1105L989.5 1104Z"/>
</g>
<!-- heat shield 19 -->
<g class="w">
<path d="M734 251L781.2 269.4L830 298.7L1049 423.1L1046.8 437.9L1042.4 438.6L1011.2 418.6L1010.5 417.1L969.7 416.4L917.8 387.5L858.6 351.4L856.5 345.5Q854.5 343 849.7 344.7L818.6 368.4L809.7 368.4L762.3 342.5Q757 339 757.1 335.5Q757 332 759 329.9L774.9 315.8L772.6 312.1L721 281Q717.5 278.5 718 274.3L730.5 253Q732 250.5 733.5 251Z"/>
<path class="l" d="M739.4 253.3L860 323.7L1012.7 413.4L1046.5 424M729.1 256L860 329.7L1008.3 417.1M720 273L848.3 344.7M719 275.3L846.5 346.3M1010.5 417.1L1013.4 412.7"/>
<path class="l" style="stroke-width:1.7" d="M719 279.5L772.6 312.1L774.9 315.8M759 329.9Q756 334 757.5 338L762.3 342.5L809.7 368.4L818.6 368.4"/>
<path class="l" style="stroke-width:1.4" d="M869 325.5L888 333.5Q895 336 897 339.5M878 327Q886 328 890 333"/>
<path class="l" style="stroke-dasharray:2 1.5" d="M1018 416L1044 424.5"/>
<path class="k" d="M1026.5 420.5l2 .5l-.5 2.5l-2-.7z"/>
</g>
<!-- bolt 25 -->
<g class="w">
<path d="M766.5 423.6L776.3 418.2Q779.5 419 779.8 423.6L778.5 425.8L770 430.7Z" style="stroke-dasharray:2.5 1.2"/>
<ellipse cx="763.5" cy="430.5" rx="6" ry="8.6" transform="rotate(-28 763.5 430.5)" style="stroke-width:1.5"/>
<ellipse cx="760.8" cy="431.8" rx="5.8" ry="8.2" transform="rotate(-28 760.8 431.8)" style="stroke-width:1.5"/>
<path class="l" style="stroke-width:1.4" d="M757.5 427L762 430L765.5 428.5M762 430L763 437"/>
</g>
<!-- washer 3 mid -->
<g class="w">
<ellipse cx="823.8" cy="749" rx="13.9" ry="19.4" transform="rotate(-21 823.8 749)"/>
<ellipse cx="819.7" cy="750.7" rx="13.9" ry="19.4" transform="rotate(-21 819.7 750.7)"/>
<ellipse cx="818.9" cy="751.5" rx="4" ry="6.4" transform="rotate(-21 818.9 751.5)"/>
<path class="l" d="M816 746.5L821.5 755"/>
</g>
<!-- bolt 20 -->
<g class="w">
<ellipse cx="900.8" cy="710" rx="6.2" ry="10.2" transform="rotate(-22 900.8 710)"/>
<path d="M891.5 705.5L897 703.8L904.5 714.5L903.5 718.5L896.5 719.5L892.5 713Z" style="stroke-width:1.3"/>
<path d="M870.3 722.1L891.5 710.7L893.9 718.9L873.6 728.7Q870 729 869.3 725.5Q869 723 870.3 722.1Z"/>
<ellipse cx="871.7" cy="725.4" rx="2.3" ry="3.6" transform="rotate(-25 871.7 725.4)"/>
<path class="l" d="M885 714L887 722.2M897 703.8L899.5 716.5L896.5 719.5M899.5 716.5L904.5 714.5" />
</g>
<!-- manifold 18 -->
<g class="w">
<path d="M1128.2 996.4C1128.3 997.4 1128.3 1000.4 1128.8 1002.3C1129.3 1004.3 1129.2 1006.5 1131.2 1008.3C1133.2 1010.1 1137.1 1012.2 1140.7 1013.0C1144.2 1013.8 1148.6 1013.8 1152.5 1013.0C1156.5 1012.2 1161.4 1010.5 1164.4 1008.3C1167.4 1006.1 1169.2 1002.5 1170.3 1000.0C1171.4 997.4 1170.8 994.0 1170.9 992.9"/>
<path d="M1099.1 943.0L1100.9 952.5L1105.7 963.2L1112.2 970.3L1119.3 974.5L1124.7 977.4L1130.0 981.0L1132.4 985.7L1133.0 991.7L1147.8 993.5L1164.4 992.3L1162.0 985.7L1160.8 978.6L1160.2 966.8L1168.5 965.0L1170.3 959.6L1172.7 956.1L1177.4 945.4L1182.2 931.2L1184.6 919.3L1185.7 907.4L1184.0 896.8L1163.2 908.6L1126.4 931.2Z"/>
<path class="l" d="M1184.0 896.8C1184.3 898.6 1185.6 903.7 1185.7 907.4C1185.8 911.2 1185.1 915.4 1184.6 919.3C1184.0 923.3 1183.4 926.8 1182.2 931.2C1181.0 935.5 1179.0 941.3 1177.4 945.4C1175.9 949.6 1173.9 953.7 1172.7 956.1C1171.5 958.5 1170.7 959.1 1170.3 959.6"/>
<path class="l" style="stroke-width:1.3" d="M1133.5 990.5C1136.1 990.3 1144.4 989.3 1149.0 989.3C1153.5 989.3 1158.9 990.3 1160.8 990.5"/>
<path class="l" style="stroke-width:1.3" d="M1133.5 994.0C1135.9 993.8 1142.6 993.2 1147.8 992.9C1152.9 992.6 1161.6 992.4 1164.4 992.3"/>
<path class="l" style="stroke-width:1.4" d="M1131.2 1001.2C1133.9 1000.8 1141.9 999.8 1147.8 998.8C1153.7 997.8 1162.9 996.1 1166.8 995.2C1170.6 994.3 1170.2 993.7 1170.9 993.5"/>
<path class="l" style="stroke-width:1.2" d="M1132.4 997.6C1134.9 997.3 1142.2 996.5 1147.8 995.8C1153.3 995.1 1162.6 993.8 1165.6 993.5"/>
<path class="l" style="stroke-width:2;stroke-dasharray:2 1" d="M1129.4 982.8C1128.6 983.3 1125.8 984.3 1124.7 985.7C1123.5 987.2 1122.3 989.7 1122.3 991.7C1122.3 993.6 1123.4 995.8 1124.7 997.6C1125.9 999.4 1129.1 1001.6 1130.0 1002.3"/>
<path class="l" style="stroke-width:2;stroke-dasharray:2 1" d="M1131.2 984.6C1130.6 985.3 1128.2 987.5 1127.6 989.3C1127.0 991.1 1127.0 993.4 1127.6 995.2C1128.2 997.1 1130.6 999.7 1131.2 1000.6"/>
<path class="l" style="stroke-width:2.2;stroke-dasharray:2.4 0.9" d="M1099.7 944.2C1099.9 945.6 1099.9 949.4 1100.9 952.5C1101.9 955.7 1103.8 960.2 1105.7 963.2C1107.5 966.2 1109.9 968.4 1112.2 970.3C1114.5 972.2 1117.2 973.3 1119.3 974.5C1121.4 975.7 1122.9 976.4 1124.7 977.4C1126.4 978.5 1128.7 979.6 1130.0 981.0C1131.3 982.4 1131.9 983.6 1132.4 985.7C1132.8 987.9 1132.9 991.3 1132.6 994.0C1132.3 996.8 1130.9 1001.0 1130.6 1002.3"/>
<path class="l" d="M1126.4 932.4C1127.2 933.2 1129.6 934.9 1131.2 937.1C1132.8 939.3 1134.8 942.4 1135.9 945.4C1137.0 948.4 1137.7 951.9 1137.7 954.9C1137.7 957.9 1137.0 960.8 1135.9 963.2C1134.8 965.6 1132.9 967.3 1131.2 969.1C1129.5 971.0 1126.7 973.6 1125.8 974.5"/>
<path class="l" style="stroke-width:2.4;stroke-dasharray:2.6 0.9" d="M1161.4 910.4C1161.1 911.9 1160.4 916.4 1159.6 919.3C1158.9 922.2 1158.1 925.2 1156.7 927.6C1155.3 930.0 1153.6 931.8 1151.3 933.5C1149.1 935.3 1145.6 937.1 1143.0 938.3C1140.5 939.5 1138.1 940.9 1135.9 940.7C1133.7 940.5 1131.5 938.4 1130.0 937.1C1128.5 935.8 1127.5 933.6 1127.0 933.0"/>
<path class="l" style="stroke-width:3" d="M1157.5 912.2L1156.3 924.1"/>
<path class="l" d="M1163.2 910.4C1164.8 910.5 1169.9 911.5 1172.7 911.0C1175.5 910.5 1177.9 908.6 1179.8 907.4C1181.7 906.3 1183.3 904.5 1184.0 903.9"/>
<path class="l" d="M1158.5 928.8C1159.8 929.4 1164.2 930.8 1166.8 932.4C1169.3 933.9 1172.2 936.6 1173.9 938.3C1175.6 940.0 1176.4 941.8 1176.8 942.4"/>
<path class="l" d="M1143.0 943.0C1143.4 945.0 1144.5 950.9 1145.4 954.9C1146.3 958.9 1146.8 963.0 1148.4 966.8C1150.0 970.5 1152.8 974.3 1154.9 977.4C1157.0 980.6 1159.8 984.4 1160.8 985.7"/>
<path class="l" d="M1147.2 941.9C1147.7 944.0 1148.9 950.7 1150.2 954.9C1151.4 959.1 1153.3 962.8 1154.9 966.8C1156.5 970.7 1158.1 975.3 1159.6 978.6C1161.2 982.0 1163.6 985.5 1164.4 986.9"/>
<path class="l" d="M1149.6 937.1C1150.5 939.1 1153.2 944.8 1154.9 949.0C1156.6 953.1 1158.3 957.9 1159.6 962.0C1161.0 966.2 1162.0 970.3 1163.2 973.9C1164.4 977.4 1166.2 981.8 1166.8 983.4"/>
<path class="l" d="M1137.1 977.4C1138.1 976.8 1141.3 975.5 1143.0 973.9C1144.8 972.3 1147.0 968.9 1147.8 967.9"/>
<path class="l" d="M1148.4 967.4C1148.9 968.8 1150.3 973.6 1151.3 976.3C1152.4 978.9 1153.3 981.7 1154.9 983.4C1156.5 985.0 1159.8 985.8 1160.8 986.3"/>
<path class="l" style="stroke-width:1.3" d="M1151.9 941.9C1153.2 941.5 1157.2 938.9 1159.6 939.5C1162.1 940.1 1165.1 942.8 1166.8 945.4C1168.4 948.0 1169.4 951.7 1169.7 954.9C1170.0 958.1 1168.7 962.8 1168.5 964.4"/>
<path class="l" d="M1153.7 945.4C1154.7 945.1 1158.0 943.0 1159.6 943.6C1161.3 944.2 1163.0 946.7 1163.8 949.0C1164.6 951.2 1164.9 954.9 1164.4 957.3C1163.9 959.6 1161.4 962.2 1160.8 963.2"/>
<path class="l" d="M1160.2 966.8L1168.5 965.0"/>
<path class="l" d="M1160.8 971.5L1167.4 970.3"/>
<path style="stroke-width:1.5" d="M1168.5 965.6C1168.6 967.8 1168.5 975.7 1169.1 978.6C1169.7 981.6 1170.5 982.2 1172.1 983.4C1173.7 984.6 1177.2 984.8 1178.6 985.7C1180.0 986.7 1180.4 988.1 1180.4 989.3C1180.4 990.5 1180.3 991.9 1178.6 992.9C1176.9 993.8 1172.7 995.4 1170.3 995.2C1167.9 995.0 1165.8 993.3 1164.4 991.7C1163.0 990.1 1162.6 987.9 1162.0 985.7C1161.4 983.6 1161.1 981.8 1160.8 978.6C1160.6 975.5 1160.4 968.7 1160.4 966.8"/>
<path class="l" style="stroke-width:2.2;stroke-dasharray:2 1.2" d="M1163.8 970.3C1163.9 971.9 1163.8 977.0 1164.4 979.8C1165.0 982.6 1165.8 985.2 1167.4 986.9C1168.9 988.6 1172.8 989.4 1173.9 989.9"/>
<path class="l" style="stroke-width:1.6;stroke-dasharray:2 1.2" d="M1166.2 971.5C1166.3 972.7 1166.2 976.4 1166.8 978.6C1167.4 980.8 1168.2 983.1 1169.7 984.6C1171.2 986.0 1174.7 987.0 1175.7 987.5"/>
<path d="M1075.4 941.9L1191.7 879.6L1202.3 877.2L1205.9 879.0L1206.5 883.7L1183.4 898.0L1126.4 931.2L1107.4 943.0L1099.1 943.0L1078.4 948.4Z"/>
<path class="l" d="M1098.0 940.7L1204.1 883.1"/>
<path class="l" d="M1098.0 940.7L1099.1 943.0"/>
<path class="l" d="M1076.6 943.0L1098.0 940.7"/>
<ellipse cx="1166.8" cy="893.8" rx="11.3" ry="3.1" transform="rotate(-27 1166.8 893.8)" style="stroke-width:1.3"/>
<ellipse cx="1109.8" cy="928.8" rx="11.3" ry="3.1" transform="rotate(-27 1109.8 928.8)" style="stroke-width:1.3"/>
<ellipse class="k" cx="1146.0" cy="904.5" rx="2.6" ry="1" transform="rotate(-27 1146.0 904.5)"/>
<ellipse class="k" cx="1124.1" cy="915.8" rx="2.6" ry="1" transform="rotate(-27 1124.1 915.8)"/>
<ellipse class="k" cx="1095.0" cy="937.1" rx="2.6" ry="1" transform="rotate(-27 1095.0 937.1)"/>
<ellipse class="k" cx="1189.3" cy="881.9" rx="2.6" ry="1" transform="rotate(-27 1189.3 881.9)"/>
<path class="k" d="M1181.0 888.5l2 -2.2l.6 3z"/>
<path class="k" d="M1121.7 921.7l2 -2.2l.6 3z"/>
</g>
<!-- gasket 21 -->
<g class="w" style="stroke-width:1.2">
<path d="M1060.7 897.4C1062.7 895.0 1067.8 889.1 1075.4 884.7C1082.9 880.4 1099.6 873.8 1106.0 871.4C1112.5 868.9 1109.2 872.5 1114.1 870.0C1118.9 867.6 1129.4 860.7 1135.4 856.7C1141.4 852.7 1142.1 849.8 1150.1 846.0C1158.1 842.2 1175.4 836.7 1183.4 834.0C1191.4 831.4 1195.6 830.0 1198.1 830.0C1200.6 830.0 1200.2 832.6 1198.4 834.0C1196.6 835.5 1190.8 836.7 1187.4 838.7C1184.1 840.7 1183.2 843.5 1178.1 846.0C1173.0 848.6 1164.3 851.5 1156.8 854.0C1149.2 856.6 1139.8 858.0 1132.7 861.4C1125.6 864.7 1118.1 870.7 1114.1 874.1C1110.0 877.4 1113.8 878.3 1108.7 881.4C1103.6 884.5 1090.9 889.7 1083.4 892.7C1075.8 895.7 1067.1 898.6 1063.3 899.4C1059.6 900.2 1058.7 899.8 1060.7 897.4Z"/>
<path class="l" style="stroke:#333;stroke-width:2.6;stroke-dasharray:1.2 1" d="M1075.4 886.7L1103.4 876.1"/>
<path class="l" style="stroke:#333;stroke-width:2;stroke-dasharray:1.2 1" d="M1076.7 889.4L1100.7 880.7"/>
<path class="l" style="stroke:#333;stroke-width:2.6;stroke-dasharray:1.2 1" d="M1149.4 848.7L1177.4 840.4"/>
<path class="l" style="stroke:#333;stroke-width:2;stroke-dasharray:1.2 1" d="M1148.7 852.0L1174.1 844.4"/>
<path class="l" style="stroke-width:2.2" d="M1131.4 858.7L1142.1 854.7"/>
<path class="l" style="stroke-width:2" d="M1106.0 872.0L1113.4 871.1"/>
<path class="l" style="stroke-width:2;stroke-dasharray:1.5 1" d="M1187.4 834.7L1197.5 831.4"/>
<path class="l" d="M1114.1 872.7L1132.7 861.4"/>
<path class="l" d="M1061.3 899.1L1074.0 895.4"/>
</g>
<!-- bolt 4 --><g class="w">
<path d="M1230.7 950.9L1242 945.9L1245.1 950.3L1244.5 954.6L1236.4 959.6L1233.2 957.8Z"/>
<path d="M1225.7 939L1227.5 935.5Q1230.5 934 1233.9 935.2L1238.9 946.5L1231.4 951.5Z"/>
<path class="l" d="M1231 951.3Q1236 951.5 1239.5 946.5"/>
</g>
<defs><g id="vspring"><path class="l" style="stroke-width:1.7;stroke-dasharray:1.6 0.8" d="M-0.5 -21L-0.5 -10"/><path class="l" style="stroke-width:1.7;stroke-linejoin:miter" d="M-6 -10.5L6 -9.3L-6.4 -8L6.6 -6.7L-6.8 -5.4L7 -4.1L-7 -2.8L7 -1.5L-7 -0.2L7 1.1L-7 2.4L7 3.7L-6.6 5L6.2 6.3L-6 7.6L5.4 8.9L-5 10.2L4.4 11.5"/><path class="l" style="stroke-width:1.3" d="M-6.5 -10L-7.5 -3L-7.5 3L-5.5 11M6.5 -10L7.5 -3L7.5 3L5 11.5"/><path class="l" style="stroke-width:2" d="M-4.8 11Q-5.5 19.5 0 20Q5 19.5 4.6 13.5"/></g></defs>
<use href="#vspring" x="1266" y="1024"/>
<use href="#vspring" x="1030" y="1248.5"/>
<!-- gasket 22 --><g class="w">
<path d="M1136 1056Q1138 1066 1155.5 1069.5Q1172 1067 1175.5 1056"/>
<ellipse cx="1155.5" cy="1050.2" rx="24.3" ry="13.6"/>
<ellipse cx="1155.5" cy="1050.4" rx="19.2" ry="10.6"/>
<path class="l" d="M1139 1056Q1141 1044.5 1155.5 1043.5Q1170 1044.5 1172.3 1055.5M1143 1063.5Q1155 1067.5 1168 1063"/>
</g>
<!-- elbow 26 --><g class="w">
<path class="l" style="stroke-width:5.6" d="M1068 1149.5L1084 1152"/><path class="l" style="stroke:#fff;stroke-width:3.6" d="M1068 1149.5L1084 1152"/><path class="l" d="M1070 1150L1083 1152"/>
<path class="l" style="stroke-width:5.6" d="M1168 1135L1176 1139"/><path class="l" style="stroke:#fff;stroke-width:3.6" d="M1168 1135L1176 1139"/>
<path d="M1086.0 1160.1C1082.7 1162.3 1090.0 1170.0 1094.0 1173.4C1098.0 1176.9 1104.0 1180.3 1110.0 1180.7C1116.1 1181.2 1124.1 1178.6 1130.1 1176.1C1136.1 1173.5 1141.9 1169.6 1146.1 1165.4C1150.3 1161.2 1152.5 1155.4 1155.4 1150.7C1158.3 1146.1 1161.6 1141.6 1163.4 1137.4C1165.2 1133.2 1170.5 1127.4 1166.1 1125.4C1161.6 1123.4 1142.3 1123.6 1136.7 1125.4C1131.2 1127.1 1134.7 1132.5 1132.7 1136.0C1130.7 1139.6 1127.4 1143.6 1124.7 1146.7C1122.1 1149.8 1118.5 1152.5 1116.7 1154.7C1114.9 1157.0 1119.2 1159.2 1114.1 1160.1C1108.9 1161.0 1089.4 1157.8 1086.0 1160.1Z"/>
<path class="l" d="M1112.7 1154.7C1112.5 1155.8 1110.7 1159.2 1111.4 1161.4C1112.0 1163.6 1114.5 1166.3 1116.7 1168.1C1118.9 1169.8 1122.1 1172.1 1124.7 1172.1C1127.4 1172.1 1131.4 1168.7 1132.7 1168.1"/>
<path class="l" style="stroke-width:5.6" d="M1120 1152L1131 1147.5"/><path class="l" style="stroke:#fff;stroke-width:3.6" d="M1120 1152L1131 1147.5"/>
<path class="l" style="stroke-width:2.4;stroke-dasharray:2 1.4" d="M1119 1158L1126 1163.5M1120 1163L1126 1167.5"/>
<path class="l" style="stroke-width:1.5" d="M1156.8 1149.4C1156.8 1147.8 1156.1 1142.3 1156.8 1140.0C1157.4 1137.8 1159.4 1136.7 1160.8 1136.0C1162.1 1135.4 1164.1 1136.0 1164.8 1136.0"/>
<path class="l" style="stroke-width:2.4;stroke-dasharray:2 1.4" d="M1160 1142L1160.5 1150M1164 1142L1164.5 1150"/>
<path class="l" d="M1152.7 1152.1C1153.6 1151.6 1156.3 1153.6 1158.1 1149.4C1159.9 1145.2 1162.5 1130.5 1163.4 1126.7"/>
<path d="M1082.0 1142.7C1081.9 1143.8 1080.2 1147.1 1081.4 1149.4C1082.5 1151.7 1085.5 1155.2 1088.7 1156.7C1091.9 1158.3 1096.7 1159.1 1100.7 1158.7C1104.7 1158.4 1109.9 1156.5 1112.7 1154.7C1115.5 1152.9 1116.8 1150.3 1117.4 1148.1C1117.9 1145.8 1116.3 1142.5 1116.1 1141.4"/>
<path class="l" style="stroke-width:1.6" d="M1081.8 1146.7C1082.9 1147.9 1085.5 1152.5 1088.7 1154.1C1091.9 1155.6 1096.8 1156.4 1100.7 1156.1C1104.6 1155.7 1109.3 1153.8 1112.0 1152.1C1114.8 1150.3 1116.2 1146.5 1117.0 1145.4"/>
<ellipse cx="1099.4" cy="1137.4" rx="15.4" ry="9.6" style="stroke-width:1.4"/>
<path d="M1084.4 1138.7C1084.5 1139.6 1083.8 1142.5 1085.0 1144.1C1086.1 1145.6 1088.3 1147.3 1091.4 1148.1C1094.4 1148.8 1100.0 1149.2 1103.4 1148.7C1106.7 1148.3 1109.6 1147.1 1111.4 1145.4C1113.1 1143.7 1113.4 1139.8 1113.8 1138.7"/>
<ellipse cx="1099.4" cy="1136.4" rx="14.7" ry="9" style="stroke-width:1.4"/>
<path class="l" d="M1090.0 1133.4C1090.1 1134.9 1087.6 1141.3 1090.7 1142.7C1093.8 1144.2 1105.6 1143.2 1108.7 1142.0C1111.8 1140.9 1109.3 1137.0 1109.4 1136.0"/>
<path class="l" d="M1090.7 1142.7C1091.9 1142.3 1095.0 1140.2 1098.0 1140.0C1101.0 1139.9 1106.9 1141.7 1108.7 1142.0"/>
<path class="l" style="stroke-width:2.2;stroke-dasharray:2 1.2" d="M1083.5 1159L1081.5 1166"/>
<path d="M1136.7 1117.4C1136.8 1118.3 1135.8 1121.1 1137.4 1122.7C1139.0 1124.3 1143.1 1125.9 1146.1 1126.7C1149.1 1127.5 1152.3 1127.6 1155.4 1127.4C1158.5 1127.1 1162.2 1126.5 1164.8 1125.4C1167.3 1124.3 1169.8 1122.3 1170.8 1120.7C1171.8 1119.1 1170.8 1116.8 1170.8 1116.0"/>
<path class="l" style="stroke-width:1.8" d="M1137.0 1120.0C1138.5 1120.9 1143.0 1124.4 1146.1 1125.4C1149.1 1126.4 1152.3 1126.3 1155.4 1126.0C1158.5 1125.8 1162.2 1125.0 1164.8 1123.8C1167.3 1122.5 1169.8 1119.5 1170.8 1118.7"/>
<path d="M1132.7 1102.7C1133.2 1104.2 1134.4 1109.4 1135.4 1112.0C1136.4 1114.7 1137.0 1116.9 1138.7 1118.7C1140.5 1120.5 1143.3 1121.9 1146.1 1122.7C1148.9 1123.5 1152.3 1123.6 1155.4 1123.4C1158.5 1123.1 1162.3 1122.4 1164.8 1121.4C1167.2 1120.4 1168.7 1119.1 1170.1 1117.4C1171.5 1115.6 1172.5 1112.9 1173.4 1110.7C1174.3 1108.5 1175.1 1105.1 1175.4 1104.0"/>
<ellipse cx="1154.1" cy="1102.8" rx="21.4" ry="11.6" style="stroke-width:1.5"/>
<ellipse cx="1154.4" cy="1112" rx="13.4" ry="5.2"/>
<path class="l" d="M1139.4 1108.7C1140.1 1108.2 1141.0 1106.7 1143.4 1106.0C1145.9 1105.4 1150.5 1104.7 1154.1 1104.7C1157.6 1104.7 1162.3 1105.4 1164.8 1106.0C1167.2 1106.7 1168.1 1108.2 1168.8 1108.7"/>
<path class="l" d="M1167.5 1094L1166.5 1110"/>
<path class="l" style="stroke-width:4.6" d="M1127 1112.5L1134 1117.5"/><path class="l" style="stroke:#fff;stroke-width:2.6" d="M1127 1112.5L1134 1117.5"/>
<path class="l" style="stroke-dasharray:2 1.3;stroke-width:1.5" d="M1130.1 1116.0C1130.7 1117.4 1133.6 1121.1 1134.1 1124.0C1134.5 1126.9 1133.8 1130.7 1132.7 1133.4C1131.6 1136.0 1128.3 1138.9 1127.4 1140.0"/>
</g>
<!-- gasket 12 lower --><g class="w">
<ellipse cx="985.5" cy="1187.5" rx="21.3" ry="11.4" transform="rotate(-6 985.5 1187.5)" style="stroke-width:1.3"/>
<ellipse cx="985.5" cy="1184.5" rx="21.3" ry="11.4" transform="rotate(-6 985.5 1184.5)" style="stroke-width:1.3"/>
<ellipse cx="986" cy="1183" rx="17" ry="8" transform="rotate(-6 986 1183)"/>
<path class="l" d="M970.5 1186Q975 1177.5 988 1177Q999 1177.5 1002 1183"/>
<path class="l" style="stroke-dasharray:1.5 1.2;stroke-width:1.6" d="M976 1198Q986 1200 996 1196"/>
</g>
<!-- bushing 23 -->
<g class="w">
<ellipse cx="624.7" cy="894.5" rx="14.5" ry="19.8" transform="rotate(-16 624.7 894.5)"/>
<path d="M609 880L617.8 875.2L627.5 876.6L637.3 891.3L639.8 901.1L635.7 910.9L627.5 915L619.5 918Z" style="stroke:none"/>
<path class="l" d="M609 880.5L618.5 875.5M620 918L630 913.5"/>
<ellipse cx="614.2" cy="899.2" rx="14.5" ry="19.8" transform="rotate(-16 614.2 899.2)"/>
<ellipse cx="614.2" cy="898.7" rx="5.4" ry="7.6" transform="rotate(-20 614.2 898.7)"/>
</g>
<!-- sleeve 7 mid -->
<g class="w">
<path d="M546 931.3L567.2 921.5Q572 923 573.7 927.2Q575.5 932 574.5 936.2L552.5 949.2Z"/>
<ellipse cx="548.4" cy="940.2" rx="6.4" ry="9.6" transform="rotate(-18 548.4 940.2)" style="stroke-width:1.3"/>
<ellipse cx="548.8" cy="940.2" rx="4.4" ry="7.4" transform="rotate(-18 548.8 940.2)"/>
</g>
<!-- ring 24 -->
<g class="w">
<ellipse cx="504.3" cy="970.8" rx="13.2" ry="19" transform="rotate(-20 504.3 970.8)"/>
<ellipse cx="501.8" cy="971.8" rx="13.2" ry="19" transform="rotate(-20 501.8 971.8)"/>
<ellipse cx="501.2" cy="972.3" rx="8.6" ry="13.6" transform="rotate(-20 501.2 972.3)"/>
<path class="l" d="M497 960.5Q501 962 505.5 968.5"/>
</g>
<!-- washer 2 mid -->
<g class="w">
<ellipse cx="452.6" cy="1001.8" rx="13.2" ry="19.4" transform="rotate(-21 452.6 1001.8)"/>
<ellipse cx="450.6" cy="1002.8" rx="13.2" ry="19.4" transform="rotate(-21 450.6 1002.8)"/>
<ellipse cx="451.4" cy="1002.8" rx="3" ry="4.4" transform="rotate(-21 451.4 1002.8)"/>
<path class="l" d="M449.5 999.5L453.5 1006"/>
</g>
<!-- nut 1 mid -->
<g class="w">
<path d="M383.5 1034.9L390 1029.7L397.4 1031.7L402.3 1040.6L400.6 1047.2L394.1 1050.9L386.8 1048L382.7 1039Z"/>
<path class="l" d="M383.5 1036.5L389.2 1034.1L394.1 1036.5L395.7 1043L390.8 1047.9L386 1045.5ZM389.2 1034.1L390 1029.7M394.1 1036.5L397.4 1031.7M395.7 1043L402.3 1040.6M390.8 1047.9L394.1 1050.9M386.5 1038Q390 1036 392 1041Q392.5 1045 390 1046"/>
</g>
</g>
<g id="labels" transform="translate(-0.4 0)">
<text x="315.3" y="22">1</text>
<text x="287" y="60.0">2</text>
<text x="265.3" y="114.0">3</text>
<text x="191" y="206.6">6</text>
<text x="169.8" y="248.5">7</text>
<text x="155.3" y="300.5">8</text>
<text x="465" y="311.6">5</text>
<text x="98" y="387">9</text>
<text x="375.3" y="489.0">13</text>
<text x="442.9" y="596.0">12</text>
<text x="165" y="749.6">10</text>
<text x="100.2" y="781.8">11</text>
<text x="263.8" y="778.6">13</text>
<text x="781.2" y="666.7">3</text>
<text x="945.2" y="762.1">20</text>
<text x="1227" y="769.5">21</text>
<text x="1265.4" y="862.6">18</text>
<text x="1317" y="914.5">4</text>
<text x="533" y="831">23</text>
<text x="474.7" y="870.9">7</text>
<text x="398.2" y="914.2">24</text>
<text x="323.2" y="981.1">2</text>
<text x="253.4" y="1028.4">1</text>
<text x="929.8" y="941.2">14</text>
<text x="1319.2" y="1027.6">27</text>
<text x="1231.5" y="1104.8">22</text>
<text x="1184" y="1226.8">26</text>
<text x="1084.3" y="1278.8">13</text>
<text x="948.4" y="1280.4">12</text>
<text x="890" y="466">19</text>
<text x="778.4" y="506.8">25</text>
<text x="449.5" y="1210.5">16</text>
<text x="478.9" y="1303.2">17</text>
<text x="180.5" y="1447.6">15</text>
<text x="588.5" y="1449.4">16</text>
<text x="677.9" y="1474.8">17</text>
<text x="806" y="1424.8">28</text>
<text x="965.5" y="1401.5" style="font-size:26.5px;stroke-width:0.3px">© 2008 Polaris Sales Inc.</text>
</g>
</svg>
</body></html>
